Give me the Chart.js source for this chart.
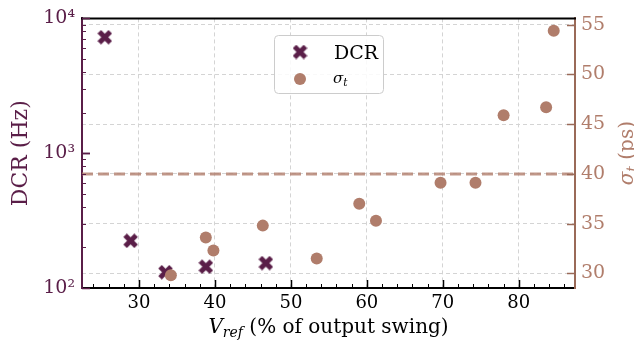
<!DOCTYPE html>
<html>
<head>
<meta charset="utf-8">
<script src="https://cdn.jsdelivr.net/npm/chart.js@4/dist/chart.umd.min.js"></script>
<style>
  html, body { margin: 0; padding: 0; background: #fff; }
  canvas { display: block; }
</style>
</head>
<body>
<canvas id="myChart" width="634" height="342"></canvas>
<script>
// data
const dcrVref = [25.5, 28.9, 33.5, 38.8, 46.7]
const dcrHz = [7250, 224, 131, 144, 153]
const sigmaVref = [34.2, 38.8, 39.8, 46.3, 53.4, 59.0, 61.2, 69.7, 74.3, 78.0, 83.6, 84.6]
const sigmaPs = [29.8, 33.6, 32.3, 34.8, 31.5, 37.0, 35.3, 39.1, 39.1, 45.9, 46.7, 54.4]
const sigmaLimit = 40

const xTicks = [30, 40, 50, 60, 70, 80]
const dcrTicks = [100, 1000, 10000]
const sigmaTicks = [30, 35, 40, 45, 50, 55]

const X_MIN = 22.5
const X_MAX = 87.4

const PURPLE = '#5a1e48'
const BROWN = '#b07d6b'
const FONT = '"DejaVu Serif", "Liberation Serif", serif'

// filled "X" marker like matplotlib's
function makeX (size, lw) {
  const c = document.createElement('canvas')
  c.width = size
  c.height = size
  const g = c.getContext('2d')
  const a = 2
  g.strokeStyle = PURPLE
  g.lineWidth = lw
  g.lineCap = 'butt'
  g.beginPath()
  g.moveTo(a, a)
  g.lineTo(size - a, size - a)
  g.moveTo(size - a, a)
  g.lineTo(a, size - a)
  g.stroke()
  return c
}
const xMarker = makeX(15, 5)

const sup = { 2: '²', 3: '³', 4: '⁴' }

function richWidth (ctx, parts, size) {
  let w = 0
  parts.forEach(p => {
    const s = p.sub ? size * 0.7 : size
    ctx.font = (p.italic ? 'italic ' : '') + s + 'px ' + FONT
    w += ctx.measureText(p.text).width
  })
  return w
}

function drawRich (ctx, parts, x, y, size, color, leftAlign) {
  let cx = leftAlign ? x : x - richWidth(ctx, parts, size) / 2
  ctx.fillStyle = color
  ctx.textBaseline = 'alphabetic'
  ctx.textAlign = 'left'
  parts.forEach(p => {
    const s = p.sub ? size * 0.7 : size
    ctx.font = (p.italic ? 'italic ' : '') + s + 'px ' + FONT
    ctx.fillText(p.text, cx, p.sub ? y + size * 0.22 : y)
    cx += ctx.measureText(p.text).width
  })
}

const framePlugin = {
  id: 'frame',
  afterDraw: chart => {
    const ctx = chart.ctx
    const { top, bottom, left, right } = chart.chartArea
    const sx = chart.scales.x
    const sy = chart.scales.y
    const sy2 = chart.scales.y2
    ctx.save()

    // top spine
    ctx.strokeStyle = '#000'
    ctx.lineWidth = 2
    ctx.beginPath()
    ctx.moveTo(left - 1, top)
    ctx.lineTo(right + 1, top)
    ctx.stroke()

    // inward ticks, bottom
    ctx.strokeStyle = '#000'
    for (let v = 24; v <= 86; v += 2) {
      const px = Math.round(sx.getPixelForValue(v)) + 0.5
      const len = v % 10 === 0 ? 8 : 4
      ctx.lineWidth = v % 10 === 0 ? 1.5 : 1
      ctx.beginPath()
      ctx.moveTo(px, bottom)
      ctx.lineTo(px, bottom - len)
      ctx.stroke()
    }

    // inward ticks, left (log)
    ctx.strokeStyle = PURPLE
    for (let d = 100; d < 10000; d *= 10) {
      for (let m = 1; m <= 10; m++) {
        const v = d * m
        if (v > 10000) continue
        const py = Math.round(sy.getPixelForValue(v)) + 0.5
        const major = m === 1 || m === 10
        ctx.lineWidth = major ? 1.5 : 1
        ctx.beginPath()
        ctx.moveTo(left, py)
        ctx.lineTo(left + (major ? 8 : 4), py)
        ctx.stroke()
      }
    }

    // inward ticks, right
    ctx.strokeStyle = '#9a6a58'
    ctx.lineWidth = 1.5
    sigmaTicks.forEach(v => {
      const py = Math.round(sy2.getPixelForValue(v)) + 0.5
      ctx.beginPath()
      ctx.moveTo(right, py)
      ctx.lineTo(right - 8, py)
      ctx.stroke()
    })

    // axis titles with sub-scripts
    drawRich(ctx, [
      { text: 'V', italic: true },
      { text: 'ref', italic: true, sub: true },
      { text: ' (% of output swing)' }
    ], (left + right) / 2, 333, 20, '#000')

    ctx.save()
    ctx.translate(626, (top + bottom) / 2)
    ctx.rotate(-Math.PI / 2)
    drawRich(ctx, [
      { text: 'σ', italic: true },
      { text: 't', italic: true, sub: true },
      { text: ' (ps)' }
    ], 0, 7, 20, BROWN)
    ctx.restore()

    // legend
    const lx = 274, ly = 35, lw = 109, lh = 58
    ctx.fillStyle = 'rgba(255,255,255,0.85)'
    ctx.strokeStyle = '#cccccc'
    ctx.lineWidth = 1
    ctx.beginPath()
    ctx.roundRect(lx + 0.5, ly + 0.5, lw, lh, 4)
    ctx.fill()
    ctx.stroke()
    ctx.drawImage(xMarker, 300 - 7.5, 52 - 7.5)
    ctx.fillStyle = BROWN
    ctx.beginPath()
    ctx.arc(300, 79, 6, 0, Math.PI * 2)
    ctx.fill()
    ctx.fillStyle = '#000'
    ctx.font = '19px ' + FONT
    ctx.textAlign = 'left'
    ctx.textBaseline = 'alphabetic'
    ctx.fillText('DCR', 334, 59)
    drawRich(ctx, [
      { text: 'σ', italic: true },
      { text: 't', italic: true, sub: true }
    ], 333, 83, 15, '#000', true)

    ctx.restore()
  }
}

const config = {
  type: 'scatter',
  data: {
    datasets: [
      {
        label: 'σt',
        yAxisID: 'y2',
        data: sigmaVref.map((v, i) => ({ x: v, y: sigmaPs[i] })),
        pointStyle: 'circle',
        pointRadius: 6,
        pointHoverRadius: 6,
        backgroundColor: BROWN,
        borderColor: BROWN,
        borderWidth: 0,
        order: 0
      },
      {
        label: 'DCR',
        yAxisID: 'y',
        data: dcrVref.map((v, i) => ({ x: v, y: dcrHz[i] })),
        pointStyle: xMarker,
        pointRadius: 7,
        order: 1
      },
      {
        label: 'limit',
        type: 'line',
        yAxisID: 'y2',
        data: [{ x: X_MIN, y: sigmaLimit }, { x: X_MAX, y: sigmaLimit }],
        borderColor: 'rgba(176,125,107,0.8)',
        borderWidth: 3,
        borderDash: [11, 5],
        pointRadius: 0,
        fill: false,
        order: 2
      }
    ]
  },
  options: {
    responsive: false,
    animation: false,
    devicePixelRatio: 1,
    layout: { padding: { top: 17, left: 0, right: 0, bottom: 0 } },
    plugins: { legend: { display: false }, tooltip: { enabled: false } },
    scales: {
      x: {
        type: 'linear',
        min: X_MIN,
        max: X_MAX,
        afterBuildTicks: s => { s.ticks = xTicks.map(v => ({ value: v })) },
        afterFit: s => { s.height = 54 },
        grid: { color: '#d4d4d4', lineWidth: 1, drawTicks: false },
        border: { color: '#000', width: 2, dash: [4, 3] },
        ticks: { color: '#000', font: { family: FONT, size: 18 }, padding: 5, maxRotation: 0 }
      },
      y: {
        type: 'logarithmic',
        position: 'left',
        min: 100,
        max: 10000,
        afterBuildTicks: s => { s.ticks = dcrTicks.map(v => ({ value: v })) },
        afterFit: s => { s.width = 82 },
        grid: { display: false, drawTicks: false },
        border: { color: PURPLE, width: 2 },
        ticks: {
          color: PURPLE,
          font: { family: FONT, size: 19 },
          padding: 7,
          callback: v => '10' + sup[Math.round(Math.log10(v))]
        },
        title: {
          display: true,
          text: 'DCR (Hz)',
          color: PURPLE,
          font: { family: FONT, size: 22 },
          padding: { top: 8, bottom: 0 }
        }
      },
      y2: {
        type: 'linear',
        position: 'right',
        min: 28.53,
        max: 55.63,
        afterBuildTicks: s => { s.ticks = sigmaTicks.map(v => ({ value: v })) },
        afterFit: s => { s.width = 59 },
        grid: { color: '#d4d4d4', lineWidth: 1, drawTicks: false },
        border: { color: '#9a6a58', width: 2, dash: [4, 3] },
        ticks: { color: BROWN, font: { family: FONT, size: 19 }, padding: 6 }
      }
    }
  },
  plugins: [framePlugin]
}

const chart = new Chart(document.getElementById('myChart'), config)
</script>
</body>
</html>
